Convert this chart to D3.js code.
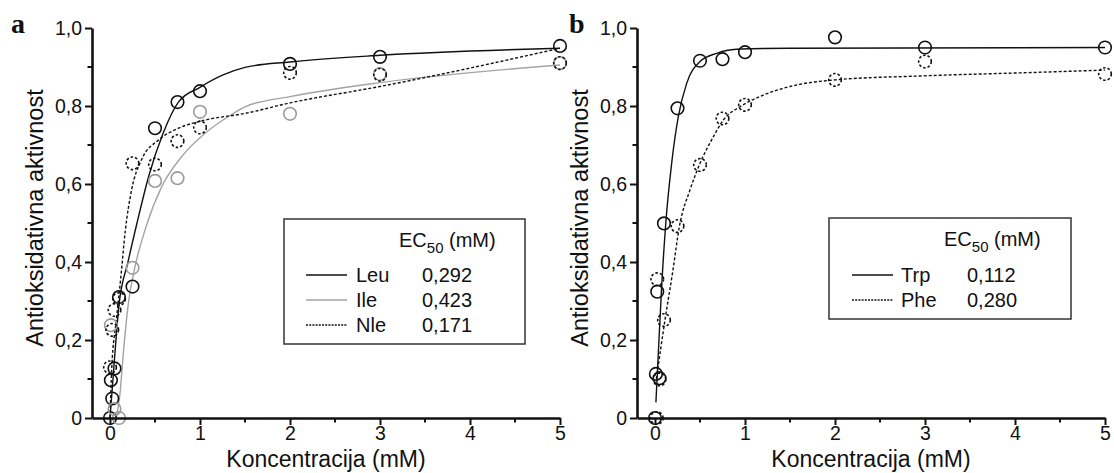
<!DOCTYPE html>
<html>
<head>
<meta charset="utf-8">
<script src="https://cdn.jsdelivr.net/npm/d3@7"></script>
<style>
  body { margin: 0; background: #fff; }
  svg text { font-family: "Liberation Sans", Arial, sans-serif; fill: #111; }
</style>
</head>
<body>
<svg id="chart" width="1114" height="473"></svg>
<script>
// ---- axis ticks ----
const xTicks = [0, 1, 2, 3, 4, 5];
const xTickLabels = ["0", "1", "2", "3", "4", "5"];
const xMinorTicks = [0.5, 1.5, 2.5, 3.5, 4.5];
const yTicks = [0, 0.2, 0.4, 0.6, 0.8, 1.0];
const yTickLabels = ["0", "0,2", "0,4", "0,6", "0,8", "1,0"];
const yMinorTicks = [0.1, 0.3, 0.5, 0.7, 0.9];

// ---- panel a: measured points (concentration mM, relative activity) ----
const leuConc = [0, 0.01, 0.025, 0.05, 0.1, 0.25, 0.5, 0.75, 1, 2, 3, 5];
const leuAct  = [0, 0.097, 0.05, 0.127, 0.31, 0.337, 0.743, 0.81, 0.838, 0.908, 0.926, 0.954];
const ileConc = [0.01, 0.05, 0.1, 0.25, 0.5, 0.75, 1, 2, 3, 5];
const ileAct  = [0.238, 0.023, 0, 0.385, 0.608, 0.615, 0.785, 0.78, 0.882, 0.91];
const nleConc = [0, 0.025, 0.05, 0.1, 0.25, 0.5, 0.75, 1, 2, 3, 5];
const nleAct  = [0.13, 0.226, 0.277, 0.305, 0.653, 0.65, 0.71, 0.745, 0.885, 0.88, 0.91];

// ---- panel a: fitted curves ----
const leuFitConc = [0, 0.03, 0.1, 0.2, 0.3, 0.43, 0.59, 0.76, 1.0, 1.25, 1.5, 2, 3, 5];
const leuFitAct  = [0, 0.09, 0.29, 0.40, 0.50, 0.62, 0.73, 0.81, 0.848, 0.879, 0.899, 0.913, 0.93, 0.948];
const ileFitConc = [0.07, 0.11, 0.148, 0.204, 0.278, 0.40, 0.574, 0.796, 1.056, 1.315, 1.5, 2, 3, 5];
const ileFitAct  = [0, 0.06, 0.166, 0.294, 0.388, 0.49, 0.593, 0.67, 0.73, 0.773, 0.798, 0.824, 0.86, 0.905];
const nleFitConc = [0, 0.02, 0.07, 0.12, 0.17, 0.24, 0.35, 0.54, 0.76, 1.06, 1.5, 2, 3, 5];
const nleFitAct  = [0, 0.13, 0.25, 0.36, 0.48, 0.585, 0.662, 0.713, 0.743, 0.764, 0.781, 0.808, 0.85, 0.948];

// ---- panel b: measured points ----
const trpConc = [0, 0.01, 0.025, 0.05, 0.1, 0.25, 0.5, 0.75, 1, 2, 3, 5];
const trpAct  = [0, 0.113, 0.324, 0.102, 0.499, 0.794, 0.916, 0.92, 0.938, 0.976, 0.95, 0.95];
const pheConc = [0.02, 0.025, 0.05, 0.1, 0.25, 0.5, 0.75, 1, 2, 3, 5];
const pheAct  = [0, 0.356, 0.099, 0.251, 0.492, 0.649, 0.768, 0.803, 0.867, 0.914, 0.882];

// ---- panel b: fitted curves ----
const trpFitConc = [0.01, 0.037, 0.074, 0.12, 0.185, 0.259, 0.352, 0.5, 0.685, 0.944, 1.5, 5];
const trpFitAct  = [0.04, 0.166, 0.337, 0.50, 0.653, 0.773, 0.858, 0.914, 0.935, 0.946, 0.948, 0.95];
const pheFitConc = [0.015, 0.11, 0.2, 0.27, 0.389, 0.5, 0.648, 0.759, 0.944, 1.204, 1.5, 2, 2.944, 4.06, 5];
const pheFitAct  = [0.1, 0.25, 0.38, 0.49, 0.585, 0.653, 0.721, 0.764, 0.798, 0.828, 0.85, 0.867, 0.877, 0.885, 0.892];

// ---- legend entries ----
const legendA = ["Leu", "Ile", "Nle"];
const legendAValues = ["0,292", "0,423", "0,171"];
const legendB = ["Trp", "Phe"];
const legendBValues = ["0,112", "0,280"];

const zip = (xs, ys) => xs.map((x, i) => [x, ys[i]]);

const styles = {
  black:  { stroke: "#111", dash: null, ptDash: null },
  gray:   { stroke: "#a3a3a3", dash: null, ptDash: null },
  dashed: { stroke: "#111", dash: "3,2", ptDash: "2.5,2" }
};

const svg = d3.select("#chart");
const yScale = d3.scaleLinear().domain([0, 1]).range([418, 28]);

function drawPanel(cfg) {
  const g = svg.append("g");
  const x = d3.scaleLinear().domain([-0.2, 5]).range(cfg.xRange);
  const y = yScale;

  // fitted curves
  const line = d3.line().x(d => x(d[0])).y(d => y(d[1])).curve(d3.curveMonotoneX);
  cfg.series.forEach(s => {
    const st = styles[s.style];
    g.append("path")
      .attr("d", line(zip(s.fitX, s.fitY)))
      .attr("fill", "none")
      .attr("stroke", st.stroke)
      .attr("stroke-width", 1.4)
      .attr("stroke-dasharray", st.dash);
  });
  // measured points
  cfg.series.forEach(s => {
    const st = styles[s.style];
    g.append("g").selectAll("circle")
      .data(zip(s.ptX, s.ptY))
      .join("circle")
      .attr("cx", d => x(d[0]))
      .attr("cy", d => y(d[1]))
      .attr("r", 6.3)
      .attr("fill", "none")
      .attr("stroke", s.style === "gray" ? "#9a9a9a" : "#111")
      .attr("stroke-width", 1.6)
      .attr("stroke-dasharray", st.ptDash);
  });

  // x axis
  const xAxis = d3.axisBottom(x).tickValues(xTicks)
    .tickFormat((d, i) => xTickLabels[i]).tickSize(7).tickSizeOuter(0).tickPadding(1);
  const gx = g.append("g").attr("transform", `translate(0,${y(0)})`).call(xAxis);
  gx.selectAll(".tick text").attr("font-size", 19.5);
  gx.selectAll(".tick line").attr("stroke-width", 2).attr("stroke", "#111");
  gx.select(".domain").attr("stroke-width", 2.6).attr("stroke", "#111");
  g.append("g").selectAll("line").data(xMinorTicks).join("line")
    .attr("x1", d => x(d)).attr("x2", d => x(d))
    .attr("y1", y(0)).attr("y2", y(0) + 4.5)
    .attr("stroke", "#111").attr("stroke-width", 2);

  // y axis
  const yAxis = d3.axisLeft(y).tickValues(yTicks)
    .tickFormat((d, i) => yTickLabels[i]).tickSize(7).tickSizeOuter(0).tickPadding(3);
  const gy = g.append("g").attr("transform", `translate(${cfg.xRange[0]},0)`).call(yAxis);
  gy.selectAll(".tick text").attr("font-size", 19.5);
  gy.selectAll(".tick line").attr("stroke-width", 2).attr("stroke", "#111");
  gy.select(".domain").attr("stroke-width", 2.6).attr("stroke", "#111");
  g.append("g").selectAll("line").data(yMinorTicks).join("line")
    .attr("x1", cfg.xRange[0]).attr("x2", cfg.xRange[0] - 4.5)
    .attr("y1", d => y(d)).attr("y2", d => y(d))
    .attr("stroke", "#111").attr("stroke-width", 2);

  // axis titles
  g.append("text")
    .attr("x", (cfg.xRange[0] + cfg.xRange[1]) / 2)
    .attr("y", 467)
    .attr("text-anchor", "middle")
    .attr("font-size", 23)
    .text("Koncentracija (mM)");
  g.append("text")
    .attr("transform", `translate(${cfg.yTitleX},218) rotate(-90)`)
    .attr("text-anchor", "middle")
    .attr("font-size", 23.5)
    .text("Antioksidativna aktivnost");

  // panel letter
  g.append("text")
    .attr("x", cfg.letterX).attr("y", 33)
    .style("font-family", "'Liberation Serif', 'Times New Roman', serif")
    .style("font-weight", "bold")
    .attr("font-size", 28)
    .text(cfg.letter);

  // legend box
  const L = cfg.legend;
  g.append("rect")
    .attr("x", L.x).attr("y", L.y).attr("width", L.w).attr("height", L.h)
    .attr("fill", "#fff").attr("stroke", "#333").attr("stroke-width", 1.5);
  const head = g.append("text")
    .attr("x", L.headX).attr("y", L.y + 28).attr("font-size", 20);
  head.append("tspan").text("EC");
  head.append("tspan").attr("font-size", 15).attr("dy", 6).text("50");
  head.append("tspan").attr("dy", -6).text(" (mM)");
  L.names.forEach((name, i) => {
    const s = cfg.series[i];
    const st = styles[s.style];
    const by = L.y + L.row0 + i * L.rowStep;
    g.append("line")
      .attr("x1", L.lineX0).attr("x2", L.lineX1)
      .attr("y1", by - 7).attr("y2", by - 7)
      .attr("stroke", st.stroke).attr("stroke-width", 1.3)
      .attr("stroke-dasharray", s.style === "dashed" ? "2,1.2" : null);
    g.append("text").attr("x", L.nameX).attr("y", by).attr("font-size", 20).text(name);
    g.append("text").attr("x", L.valX).attr("y", by).attr("font-size", 20).text(L.values[i]);
  });
}

drawPanel({
  xRange: [92, 560],
  letter: "a", letterX: 11, yTitleX: 43,
  series: [
    { style: "black",  ptX: leuConc, ptY: leuAct, fitX: leuFitConc, fitY: leuFitAct },
    { style: "gray",   ptX: ileConc, ptY: ileAct, fitX: ileFitConc, fitY: ileFitAct },
    { style: "dashed", ptX: nleConc, ptY: nleAct, fitX: nleFitConc, fitY: nleFitAct }
  ],
  legend: { x: 284, y: 219, w: 241, h: 125, headX: 399, row0: 63, rowStep: 25,
            lineX0: 306, lineX1: 347, nameX: 356, valX: 422,
            names: legendA, values: legendAValues }
});

drawPanel({
  xRange: [637, 1105],
  letter: "b", letterX: 569, yTitleX: 588,
  series: [
    { style: "black",  ptX: trpConc, ptY: trpAct, fitX: trpFitConc, fitY: trpFitAct },
    { style: "dashed", ptX: pheConc, ptY: pheAct, fitX: pheFitConc, fitY: pheFitAct }
  ],
  legend: { x: 829, y: 218, w: 242, h: 101, headX: 944, row0: 64, rowStep: 25,
            lineX0: 852, lineX1: 893, nameX: 901, valX: 967,
            names: legendB, values: legendBValues }
});
</script>
</body>
</html>
